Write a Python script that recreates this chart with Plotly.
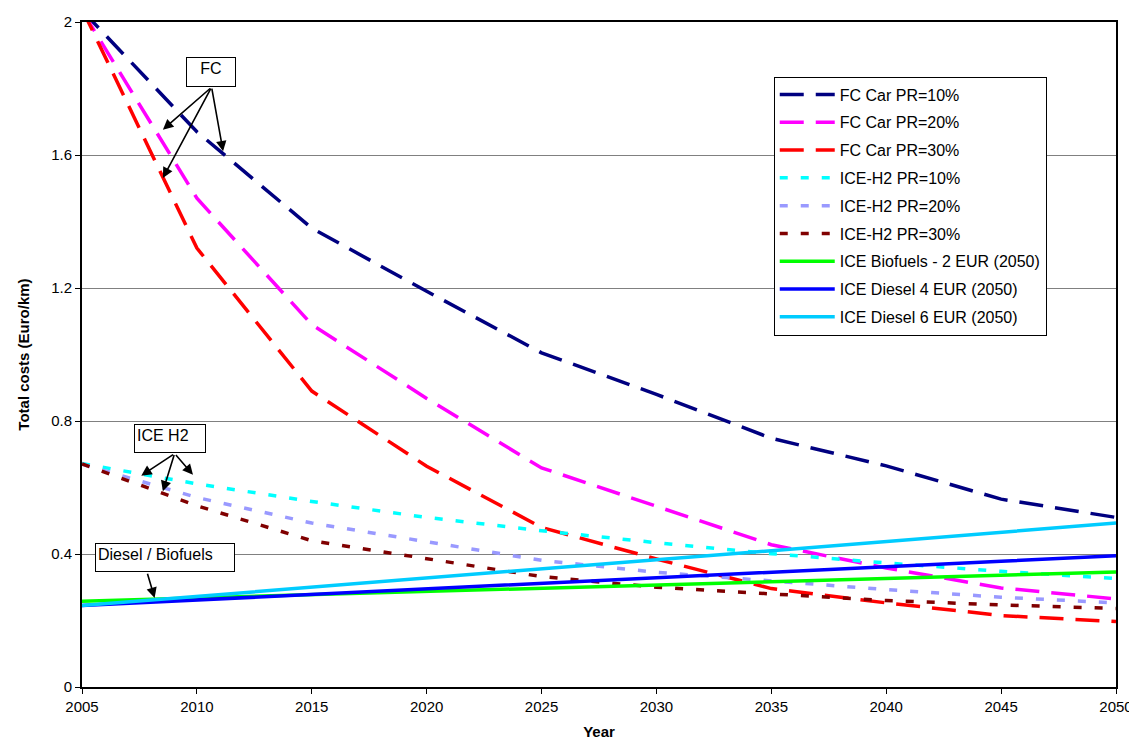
import plotly.graph_objects as go

years = [2005, 2010, 2015, 2020, 2025, 2030, 2035, 2040, 2045, 2050]
fc_pr10 = [2.035, 1.67, 1.38, 1.19, 1.005, 0.88, 0.748, 0.665, 0.565, 0.51]
fc_pr20 = [2.034, 1.47, 1.09, 0.868, 0.659, 0.543, 0.428, 0.358, 0.298, 0.265]
fc_pr30 = [2.04, 1.32, 0.89, 0.664, 0.48, 0.385, 0.296, 0.253, 0.215, 0.197]
ice_pr10 = [0.672, 0.611, 0.558, 0.51, 0.47, 0.434, 0.401, 0.373, 0.348, 0.326]
ice_pr20 = [0.67, 0.57, 0.493, 0.437, 0.381, 0.345, 0.318, 0.293, 0.27, 0.253]
ice_pr30 = [0.671, 0.545, 0.44, 0.386, 0.332, 0.30, 0.279, 0.26, 0.247, 0.236]
ice_bio = [0.258, 0.268, 0.278, 0.287, 0.297, 0.307, 0.317, 0.327, 0.336, 0.346]
ice_diesel4 = [0.245, 0.262, 0.278, 0.295, 0.312, 0.328, 0.345, 0.362, 0.378, 0.395]
ice_diesel6 = [0.245, 0.273, 0.300, 0.328, 0.355, 0.383, 0.410, 0.438, 0.466, 0.493]

series_names = ["FC Car PR=10%", "FC Car PR=20%", "FC Car PR=30%",
                "ICE-H2 PR=10%", "ICE-H2 PR=20%", "ICE-H2 PR=30%",
                "ICE Biofuels - 2 EUR (2050)", "ICE Diesel 4 EUR (2050)",
                "ICE Diesel 6 EUR (2050)"]
series_values = [fc_pr10, fc_pr20, fc_pr30, ice_pr10, ice_pr20, ice_pr30,
                 ice_bio, ice_diesel4, ice_diesel6]
colors = ["#000080", "#FF00FF", "#FF0000", "#00FFFF", "#9999FF", "#800000",
          "#00FF00", "#0000FF", "#00CCFF"]
dashes = ["24px,12px"] * 3 + ["8px,13px"] * 3 + ["solid"] * 3

y_ticks = [0, 0.4, 0.8, 1.2, 1.6, 2]
y_ticktext = ["0", "0.4", "0.8", "1.2", "1.6", "2"]
x_ticks = [2005, 2010, 2015, 2020, 2025, 2030, 2035, 2040, 2045, 2050]

FONT = "Liberation Sans, Arial, sans-serif"

fig = go.Figure()
for i, (name, vals, col, dsh) in enumerate(zip(series_names, series_values, colors, dashes)):
    fig.add_trace(go.Scatter(
        x=years, y=vals, mode="lines", name=name,
        line=dict(color=col, width=3.5, dash=dsh),
        legendgroup="g%d" % i,
    ))

# Label boxes
boxes = [
    dict(x=2010.63, y=1.85, text="FC", width=44, height=24, align="center"),
    dict(x=2008.82, y=0.746, text="ICE H2", width=66, height=23, align="left"),
    dict(x=2008.6, y=0.390, text="Diesel / Biofuels", width=134, height=23, align="left"),
]
for b in boxes:
    fig.add_annotation(x=b["x"], y=b["y"], xref="x", yref="y", text=b["text"],
                       showarrow=False, width=b["width"], height=b["height"],
                       align=b["align"], valign="top",
                       font=dict(family=FONT, size=16, color="black"),
                       bgcolor="white", bordercolor="black", borderwidth=1, borderpad=2)

# Arrows (head, tail)
arrows = [
    ((2008.52, 1.676), (2010.64, 1.804)),
    ((2008.52, 1.531), (2010.64, 1.804)),
    ((2011.14, 1.611), (2010.64, 1.804)),
    ((2007.58, 0.6355), (2009.03, 0.702)),
    ((2008.52, 0.5886), (2009.03, 0.702)),
    ((2009.83, 0.6385), (2009.03, 0.702)),
    ((2008.16, 0.268), (2007.83, 0.345)),
]
for (hx, hy), (tx, ty) in arrows:
    fig.add_annotation(x=hx, y=hy, xref="x", yref="y", ax=tx, ay=ty,
                       axref="x", ayref="y", text="", showarrow=True,
                       arrowhead=2, arrowsize=1.3, arrowwidth=1.6,
                       arrowcolor="black", standoff=0, startstandoff=0)

fig.update_layout(
    width=1137, height=740,
    margin=dict(l=74, r=29, t=14, b=61, autoexpand=False),
    paper_bgcolor="white", plot_bgcolor="white",
    font=dict(family=FONT, size=15, color="black"),
    showlegend=True,
    legend=dict(x=0.669, y=0.918, xanchor="left", yanchor="top",
                bordercolor="black", borderwidth=1, bgcolor="white",
                font=dict(family=FONT, size=16, color="black"),
                traceorder="grouped", tracegroupgap=4, itemwidth=55),
    xaxis=dict(range=[2005, 2050], tickvals=x_ticks, ticks="outside", ticklen=5,
               tickcolor="black", showgrid=False, zeroline=False, automargin=False,
               showline=True, linecolor="black", linewidth=2, mirror=True,
               tickfont=dict(family=FONT, size=15),
               title=dict(text="<b>Year</b>", font=dict(family=FONT, size=15), standoff=12)),
    yaxis=dict(range=[0, 2], tickvals=y_ticks, ticktext=y_ticktext, ticks="outside",
               ticklen=5, tickcolor="black", showgrid=True, gridcolor="#808080",
               gridwidth=1, zeroline=False, automargin=False,
               showline=True, linecolor="black", linewidth=2, mirror=True,
               tickfont=dict(family=FONT, size=15),
               title=dict(text="<b>Total costs (Euro/km)</b>", font=dict(family=FONT, size=15), standoff=18)),
)

fig.write_html("out.html")
